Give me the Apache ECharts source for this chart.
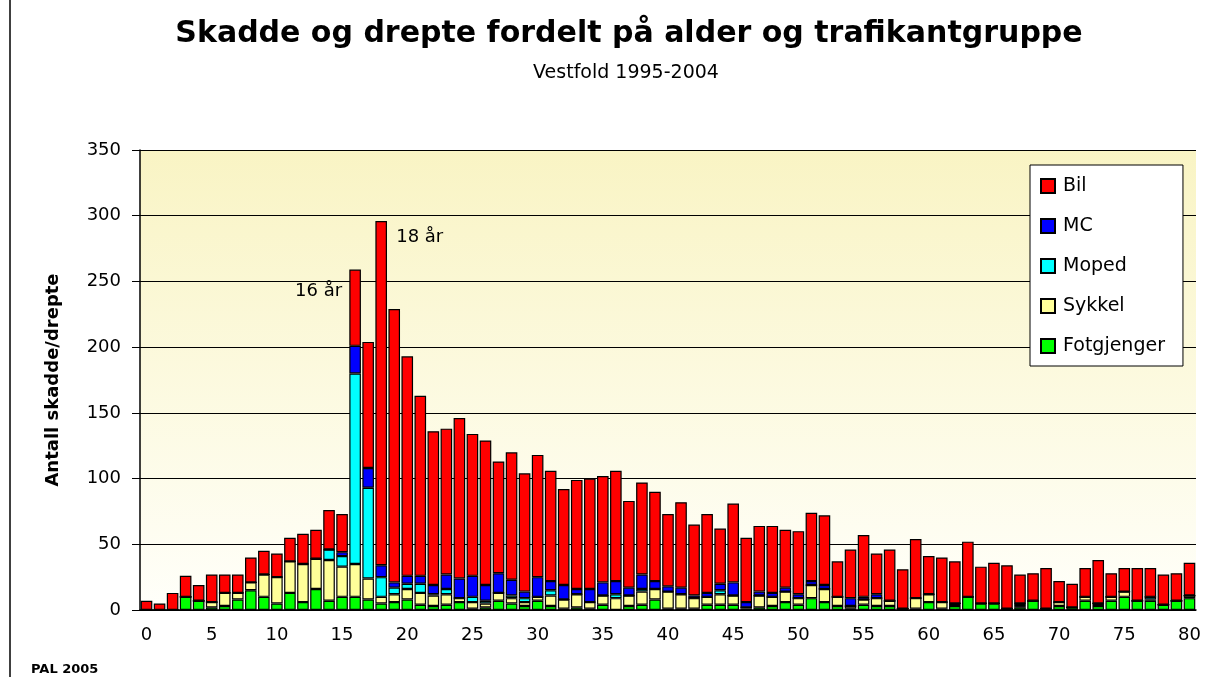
<!DOCTYPE html>
<html>
<head>
<meta charset="utf-8">
<script src="https://cdn.jsdelivr.net/npm/echarts@6/dist/echarts.min.js"></script>
<style>
  html, body { margin: 0; padding: 0; background: #fff; }
  #chart { width: 1210px; height: 677px; }
</style>
</head>
<body>
<div id="chart"></div>
<script>
// alder 0-80
const ages = ['0','1','2','3','4','5','6','7','8','9','10','11','12','13','14','15','16','17','18','19',
  '20','21','22','23','24','25','26','27','28','29','30','31','32','33','34','35','36','37','38','39',
  '40','41','42','43','44','45','46','47','48','49','50','51','52','53','54','55','56','57','58','59',
  '60','61','62','63','64','65','66','67','68','69','70','71','72','73','74','75','76','77','78','79','80'];

const fotgjenger = [0,0,0,10,7,2,3,8,15,10,5,13,6,16,7,10,10,8,5,6,
  8,4,3,4,6,1,2,7,5,3,7,3,1,2,1,4,0,3,4,8,
  1,1,1,4,4,4,1,2,3,6,4,9,6,3,1,4,3,3,1,1,
  6,1,3,10,5,5,1,2,7,1,3,2,7,3,7,10,7,7,4,7,9];
const sykkel = [0,0,0,0,0,4,10,5,6,17,20,24,29,23,31,23,25,16,5,6,
  8,9,8,8,3,5,3,6,4,3,3,8,7,10,5,7,9,8,10,8,
  13,11,8,6,8,7,1,9,7,8,5,10,10,7,2,4,6,4,0,8,
  6,5,2,0,0,0,0,1,0,0,3,0,3,2,3,4,0,1,0,0,2];
const moped = [0,0,0,0,0,0,0,0,0,0,0,0,0,0,8,8,145,69,15,5,
  4,7,1,4,0,4,2,0,2,3,0,4,0,0,0,0,3,0,2,0,
  0,0,0,0,3,0,0,0,0,0,0,0,0,0,0,0,0,0,0,0,
  0,0,0,0,0,0,0,2,0,0,0,0,0,0,0,0,0,2,0,0,0];
const mc = [0,0,0,0,0,0,0,0,0,0,0,0,0,0,0,3,21,15,9,4,
  6,6,7,11,15,16,12,15,12,5,15,7,11,4,10,10,10,6,11,6,
  4,5,2,3,5,10,4,3,3,3,3,3,3,0,6,2,3,0,0,0,
  0,0,0,0,0,0,0,0,0,0,0,0,0,0,0,0,0,0,0,0,0];
const bil = [7,5,13,16,12,21,14,14,19,18,18,18,23,22,30,29,58,96,262,208,
  167,137,117,111,122,108,110,85,97,90,93,84,73,83,84,81,84,66,70,68,
  55,65,54,60,42,60,49,50,51,44,48,52,53,27,37,47,31,39,30,45,
  29,34,32,42,28,31,33,22,21,31,16,18,22,33,18,18,25,22,23,21,25];

const yTicks = [0, 50, 100, 150, 200, 250, 300, 350];
// [alder, verdi, tekst]
const notes = [['16', 259, '16 år'], ['18', 296, '18 år']];

const seriesDefs = [
  { name: 'Fotgjenger', data: fotgjenger, color: '#00ff00' },
  { name: 'Sykkel', data: sykkel, color: '#ffff99' },
  { name: 'Moped', data: moped, color: '#00ffff' },
  { name: 'MC', data: mc, color: '#0000ff' },
  { name: 'Bil', data: bil, color: '#ff0000' }
];

const chart = echarts.init(document.getElementById('chart'));
const font = 'Verdana, "DejaVu Sans", sans-serif';

const option = {
  backgroundColor: '#fff',
  animation: false,
  textStyle: { fontFamily: font, color: '#000' },
  title: [
    {
      text: 'Skadde og drepte fordelt på alder og trafikantgruppe',
      left: 624, textAlign: 'center', top: 14,
      textStyle: { fontSize: 30, fontWeight: 'bold', color: '#000', fontFamily: font }
    },
    {
      text: 'Vestfold 1995-2004',
      left: 621, textAlign: 'center', top: 59,
      textStyle: { fontSize: 19, fontWeight: 'normal', color: '#000', fontFamily: font }
    }
  ],
  legend: {
    orient: 'vertical',
    left: 1030, top: 165,
    data: ['Bil', 'MC', 'Moped', 'Sykkel', 'Fotgjenger'],
    icon: 'rect', itemWidth: 14, itemHeight: 14, itemGap: 20,
    padding: [11, 18, 10, 10],
    backgroundColor: '#fff', borderColor: '#000', borderWidth: 1,
    textStyle: { fontSize: 19, lineHeight: 20, color: '#000', fontFamily: font, padding: [0, 0, 0, 3] }
  },
  grid: {
    left: 140, right: 14, top: 150, bottom: 67,
    show: true, borderWidth: 0,
    backgroundColor: new echarts.graphic.LinearGradient(0, 0, 0, 1, [
      { offset: 0, color: '#f9f4c4' },
      { offset: 1, color: '#fffffa' }
    ])
  },
  xAxis: {
    type: 'category',
    data: ages,
    axisLine: { lineStyle: { color: '#000', width: 1.5 } },
    axisTick: { interval: 0, length: 6, lineStyle: { color: '#000' } },
    axisLabel: { interval: 4, fontSize: 18, color: '#000', margin: 16, fontFamily: font }
  },
  yAxis: {
    type: 'value',
    min: yTicks[0], max: yTicks[yTicks.length - 1], interval: 50,
    name: 'Antall skadde/drepte',
    nameLocation: 'middle', nameGap: 78,
    nameTextStyle: { fontSize: 18, fontWeight: 'bold', color: '#000', fontFamily: font },
    axisLine: { show: true, lineStyle: { color: '#000', width: 1.5 } },
    axisTick: { show: true, length: 8, lineStyle: { color: '#000' } },
    axisLabel: { fontSize: 18, color: '#000', margin: 19, fontFamily: font },
    splitLine: { lineStyle: { color: '#000', width: 1.2 } }
  },
  series: seriesDefs.map(s => ({
    name: s.name,
    type: 'bar',
    stack: 'total',
    data: s.data,
    barCategoryGap: '11%',
    itemStyle: { color: s.color, borderColor: '#000', borderWidth: 1.2 }
  }))
};

chart.setOption(option);

// tekstmerker ved 16 og 18 år, plassert via aksene
const g = [
  { type: 'line', shape: { x1: 10, y1: 0, x2: 10, y2: 677 }, style: { stroke: '#000', lineWidth: 1.5 } },
  { type: 'text', left: 31, top: 663, style: { text: 'PAL 2005', font: 'bold 13px ' + font, fill: '#000' } }
];
const p16 = chart.convertToPixel({ xAxisIndex: 0, yAxisIndex: 0 }, [notes[0][0], notes[0][1]]);
const p18 = chart.convertToPixel({ xAxisIndex: 0, yAxisIndex: 0 }, [notes[1][0], notes[1][1]]);
g.push({
  type: 'text', x: p16[0] - 13, y: p16[1] + 22,
  style: { text: notes[0][2], font: '18px ' + font, fill: '#000', align: 'right', verticalAlign: 'middle' }
});
g.push({
  type: 'text', x: p18[0] + 15, y: p18[1] + 16,
  style: { text: notes[1][2], font: '18px ' + font, fill: '#000', align: 'left', verticalAlign: 'middle' }
});
chart.setOption({ graphic: g });
</script>
</body>
</html>
